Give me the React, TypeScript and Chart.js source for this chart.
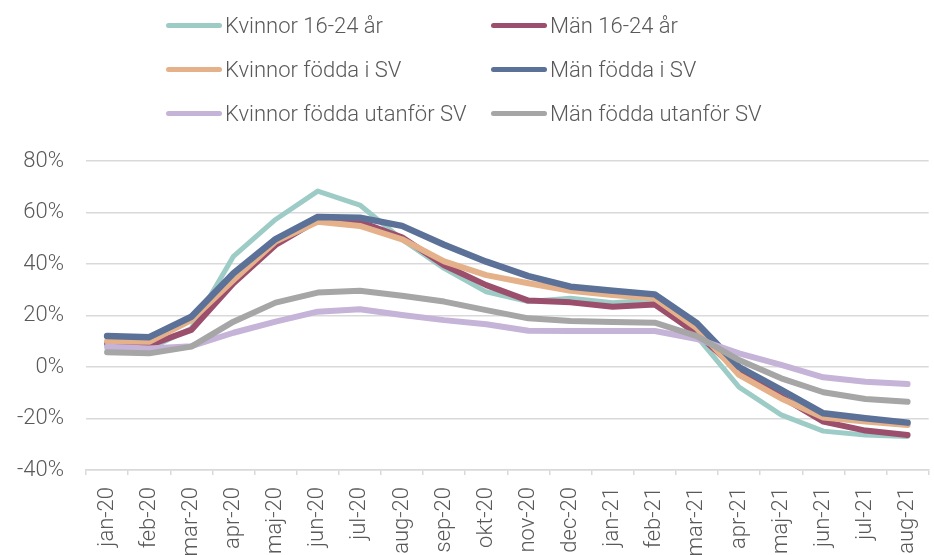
import React, { useEffect, useRef } from "react";
import { Chart, registerables } from "chart.js";

Chart.register(...registerables);

const categories = [
  "jan-20", "feb-20", "mar-20", "apr-20", "maj-20", "jun-20", "jul-20", "aug-20", "sep-20", "okt-20",
  "nov-20", "dec-20", "jan-21", "feb-21", "mar-21", "apr-21", "maj-21", "jun-21", "jul-21", "aug-21",
];

const seriesNames = [
  "Kvinnor 16-24 år",
  "Män 16-24 år",
  "Kvinnor födda i SV",
  "Män födda i SV",
  "Kvinnor födda utanför SV",
  "Män födda utanför SV",
];

const kvinnor1624 = [7, 7, 15, 43, 57.3, 68.3, 62.9, 49.5, 38.3, 29.2, 25.4, 26.7, 25, 26, 11.8, -7.8, -18.6, -24.9, -26.4, -27];
const man1624 = [9, 8.5, 14.4, 32.5, 47.4, 57, 56.4, 50.4, 39.5, 31.8, 25.8, 25.1, 23.4, 24.3, 13, -1.8, -11.5, -21.2, -24.7, -26.4];
const kvinnorSV = [10, 9.8, 18.2, 33.8, 48.7, 56.4, 54.8, 49.6, 41, 35.7, 32.5, 29.6, 28, 26.7, 15, -3.1, -12.2, -19.6, -21.2, -22.5];
const manSV = [12, 11.6, 19.5, 36.4, 49.7, 58.3, 58, 54.8, 47.5, 40.9, 35.3, 31.2, 29.6, 28.2, 17, 0, -8.9, -18, -19.9, -21.6];
const kvinnorUtanfor = [7.9, 7.2, 8.1, 13.3, 17.6, 21.5, 22.4, 20.2, 18.2, 16.6, 14.1, 14, 14, 14, 10.9, 5.3, 0.8, -4, -5.7, -6.6];
const manUtanfor = [5.7, 5.3, 7.9, 17.6, 25, 28.9, 29.6, 27.7, 25.4, 22.1, 18.9, 17.9, 17.5, 17.2, 12, 2.7, -4.4, -9.8, -12.4, -13.5];

const seriesValues = [kvinnor1624, man1624, kvinnorSV, manSV, kvinnorUtanfor, manUtanfor];
const seriesColors = ["#9dcbc6", "#9c4f6c", "#e5b18a", "#5b7198", "#c5b3d8", "#a6a6a6"];
const seriesWidths = [5, 6, 6, 6.5, 6, 6];

const yTicks = [-40, -20, 0, 20, 40, 60, 80];

const FONT = "Roboto, 'Open Sans', sans-serif";
const TEXT = "#595959";

export default function App() {
  const ref = useRef<HTMLCanvasElement | null>(null);

  useEffect(() => {
    if (!ref.current) return;
    const chart = new Chart(ref.current, {
      type: "line",
      data: {
        labels: categories,
        datasets: seriesNames.map((name, i) => ({
          label: name,
          data: seriesValues[i],
          borderColor: seriesColors[i],
          backgroundColor: seriesColors[i],
          borderWidth: seriesWidths[i],
          borderCapStyle: "round" as const,
          borderJoinStyle: "round" as const,
          pointRadius: 0,
          tension: 0,
          fill: false,
          order: 5 - i,
        })),
      },
      options: {
        animation: false,
        responsive: false,
        devicePixelRatio: 1,
        layout: { padding: { top: 161, left: 0, right: 0, bottom: 0 } },
        plugins: { legend: { display: false }, tooltip: { enabled: false } },
        scales: {
          x: {
            offset: true,
            afterFit: (s: any) => {
              s.height = 130;
            },
            grid: {
              offset: true,
              drawOnChartArea: false,
              drawTicks: true,
              tickLength: 5,
              color: "#d9d9d9",
              lineWidth: 1.5,
            },
            border: { display: true, color: "#d9d9d9", width: 1.5 },
            ticks: {
              autoSkip: false,
              maxRotation: 90,
              minRotation: 90,
              padding: 12,
              color: TEXT,
              font: { family: FONT, size: 22, weight: "300" as any },
            },
          },
          y: {
            min: -40,
            max: 80,
            afterFit: (s: any) => {
              s.width = 86;
            },
            afterBuildTicks: (s: any) => {
              s.ticks = yTicks.map((v) => ({ value: v }));
            },
            grid: { color: "#d9d9d9", lineWidth: 1.5, drawTicks: false },
            border: { display: false },
            ticks: {
              padding: 22,
              color: TEXT,
              font: { family: FONT, size: 22, weight: "300" as any },
              callback: (v: any) => `${v}%`,
            },
          },
        },
      },
    });
    return () => chart.destroy();
  }, []);

  const legendPos = [
    { left: 166, top: 25 },
    { left: 491, top: 25 },
    { left: 166, top: 69 },
    { left: 491, top: 69 },
    { left: 166, top: 113 },
    { left: 491, top: 113 },
  ];

  return (
    <div style={{ position: "fixed", left: 0, top: 0, width: 934, height: 555, overflow: "hidden", background: "#fff" }}>
      <canvas ref={ref} width={946} height={600} style={{ position: "absolute", left: 0, top: 0 }} />
      {seriesNames.map((name, i) => (
        <div
          key={name}
          style={{
            position: "absolute",
            left: legendPos[i].left,
            top: legendPos[i].top - 15,
            height: 30,
            display: "flex",
            alignItems: "center",
            whiteSpace: "nowrap",
            fontFamily: FONT,
            fontWeight: 300,
            fontSize: 22,
            color: TEXT,
          }}
        >
          <span
            style={{
              display: "inline-block",
              width: 56,
              height: 5,
              borderRadius: 3,
              background: seriesColors[i],
              marginRight: 3,
            }}
          />
          <span>{name}</span>
        </div>
      ))}
    </div>
  );
}
